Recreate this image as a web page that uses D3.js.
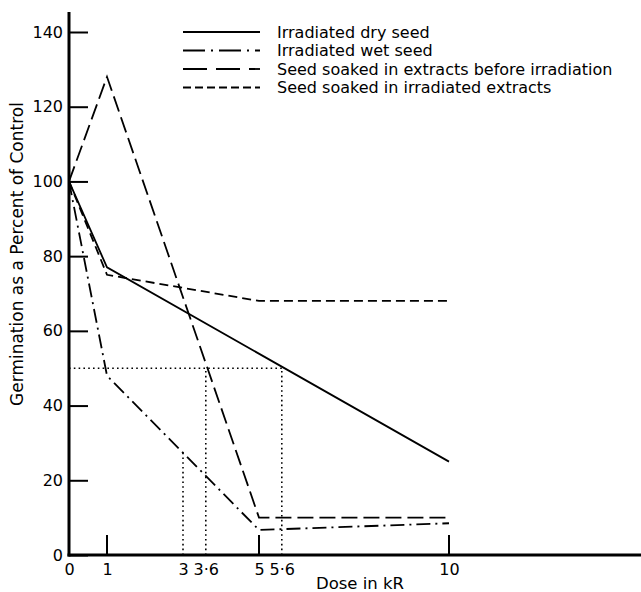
<!DOCTYPE html>
<head>
<meta charset="utf-8">
</head>
<style>
body { margin: 0; background: white; }
text { font-family: "DejaVu Sans", sans-serif; fill: black; }
.axis path { display: none; }
.axis line { stroke: black; stroke-width: 2; }
.axis text { font-size: 16px; }
.series { fill: none; stroke: black; stroke-width: 1.8; }
.guide { fill: none; stroke: black; stroke-width: 1.6; stroke-dasharray: 1.6,3.2; }
</style>
<body>
<svg id="chart" width="641" height="592"></svg>

<script src="https://d3js.org/d3.v7.min.js"></script>
<script>

// doses in kR
var doses = [0, 1, 5, 10];
var dryDoses = [0, 1, 10];
var dry = [100, 77, 25];
var wet = [100, 48, 6.7, 8.5];
var soakedBefore = [100, 128, 10, 10];
var irradExtracts = [100, 75, 68, 68];

var seriesNames = ["Irradiated dry seed", "Irradiated wet seed",
  "Seed soaked in extracts before irradiation", "Seed soaked in irradiated extracts"];
var dashes = ["none", "14,5,2,5", "16,6", "9,5"];

var yTicks = [0, 20, 40, 60, 80, 100, 120, 140];
var xLabels = [0, 1, 3, 3.6, 5, 5.6, 10];
var xTickMarks = [1, 5, 10];

// 50% guide lines: horizontal to 5.6, verticals at 3, 3.6, 5.6
var guideX = [3, 3.6, 5.6];
var guideTop = [27.5, 50, 50];

var svg = d3.select("#chart");
var x = d3.scaleLinear().domain([0, 10]).range([69, 449]),
    y = d3.scaleLinear().domain([0, 140]).range([555, 32]);

// y axis
svg.append("g")
    .attr("class", "axis axis--y")
    .attr("transform", "translate(" + x(0) + ",0)")
    .call(d3.axisLeft(y).tickValues(yTicks).tickSize(-19).tickPadding(6).tickFormat(d3.format("d")));

svg.append("line")
    .attr("x1", x(0)).attr("x2", x(0))
    .attr("y1", 12).attr("y2", y(0) + 1.5)
    .attr("stroke", "black").attr("stroke-width", 3);

// x axis
svg.append("line")
    .attr("x1", x(0) - 1.5).attr("x2", 641)
    .attr("y1", y(0)).attr("y2", y(0))
    .attr("stroke", "black").attr("stroke-width", 3);

var xAxis = svg.append("g")
    .attr("class", "axis axis--x")
    .attr("transform", "translate(0," + y(0) + ")")
    .call(d3.axisBottom(x).tickValues(xLabels).tickSize(0).tickPadding(9)
      .tickFormat(function(d) { return String(d).replace(".", "\u00b7"); }));
xAxis.selectAll("line").remove();

svg.selectAll(".xtick")
  .data(xTickMarks)
  .enter().append("line")
    .attr("class", "xtick")
    .attr("x1", function(d) { return x(d); })
    .attr("x2", function(d) { return x(d); })
    .attr("y1", y(0))
    .attr("y2", y(0) - 20)
    .attr("stroke", "black").attr("stroke-width", 2);

svg.append("text")
    .attr("x", 360).attr("y", 589)
    .attr("text-anchor", "middle")
    .style("font-size", "16.5px")
    .text("Dose in kR");

svg.append("text")
    .attr("transform", "translate(23,254) rotate(-90)")
    .attr("text-anchor", "middle")
    .style("font-size", "17px")
    .text("Germination as a Percent of Control");

// guides
svg.append("line")
    .attr("class", "guide")
    .attr("x1", x(0)).attr("x2", x(5.6))
    .attr("y1", y(50)).attr("y2", y(50));

svg.selectAll(".vguide")
  .data(guideX)
  .enter().append("line")
    .attr("class", "guide")
    .attr("x1", function(d) { return x(d); })
    .attr("x2", function(d) { return x(d); })
    .attr("y1", y(0))
    .attr("y2", function(d, i) { return y(guideTop[i]); });

// series
var line = d3.line()
    .x(function(d) { return x(d[0]); })
    .y(function(d) { return y(d[1]); });

var series = [
  d3.zip(dryDoses, dry),
  d3.zip(doses, wet),
  d3.zip(doses, soakedBefore),
  d3.zip(doses, irradExtracts)
];

svg.selectAll(".series")
  .data(series)
  .enter().append("path")
    .attr("class", "series")
    .attr("d", line)
    .attr("stroke-dasharray", function(d, i) { return dashes[i]; });

// legend
var legendY = [32, 50.5, 69, 87.5];
var legend = svg.selectAll(".legend")
  .data(seriesNames)
  .enter().append("g")
    .attr("class", "legend")
    .attr("transform", function(d, i) { return "translate(183," + legendY[i] + ")"; });

legend.append("line")
    .attr("x1", 0).attr("x2", 77)
    .attr("stroke", "black").attr("stroke-width", 1.8)
    .attr("stroke-dasharray", function(d, i) { return ["none", "22,6,2,6", "24,9", "8,4"][i]; });

legend.append("text")
    .attr("x", 94).attr("y", 5.5)
    .style("font-size", "16px")
    .text(function(d) { return d; });

</script>
</body>
